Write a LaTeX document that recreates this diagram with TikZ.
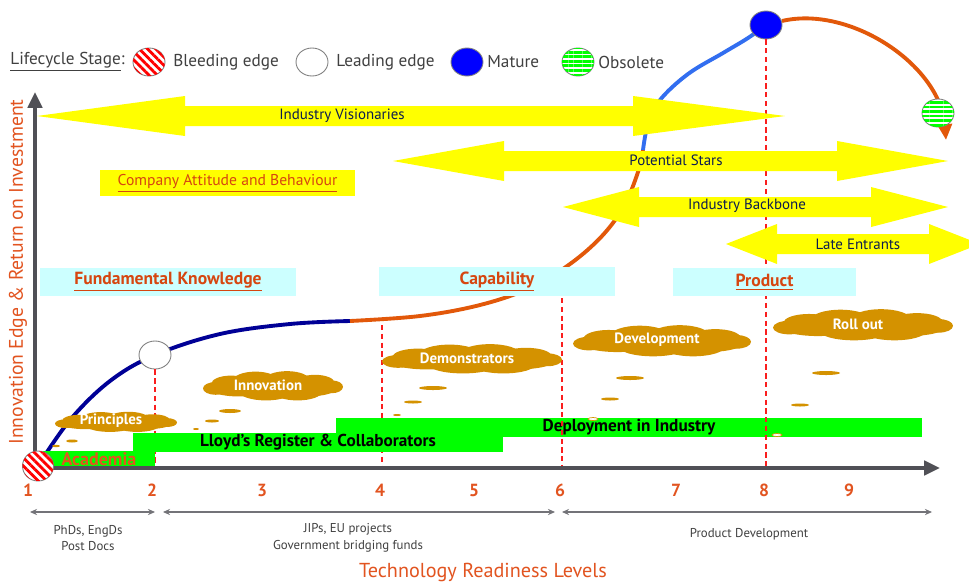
\documentclass[tikz,border=0pt]{standalone}
\usepackage{fontspec}
\setmainfont{PT Sans}
\usetikzlibrary{shapes.geometric,patterns.meta,arrows.meta}
\definecolor{trlorange}{RGB}{226,84,32}
\definecolor{boxorange}{RGB}{214,70,16}
\definecolor{curvenavy}{RGB}{0,0,150}
\definecolor{curveorange}{RGB}{226,88,10}
\definecolor{curveblue}{RGB}{50,110,240}
\definecolor{axisgray}{RGB}{80,80,86}
\definecolor{arrowyellow}{RGB}{255,255,0}
\definecolor{boxcyan}{RGB}{204,255,255}
\definecolor{bargreen}{RGB}{0,255,0}
\definecolor{cloudgold}{RGB}{212,146,0}
\definecolor{labelnavy}{RGB}{12,28,80}
\definecolor{textgray}{RGB}{64,64,64}
\definecolor{dashred}{RGB}{250,30,30}
\tikzset{
  stagecircle/.style={ellipse, draw=gray, line width=0.5pt, minimum width=0.64cm, minimum height=0.56cm, inner sep=0pt},
  bleeding/.style={stagecircle, fill=white, postaction={pattern={Lines[angle=-45,distance=3.3pt,line width=1.6pt]}, pattern color=red}},
  leading/.style={stagecircle, fill=white},
  mature/.style={stagecircle, fill=blue},
  obsolete/.style={stagecircle, fill=white, postaction={pattern={Lines[angle=0,distance=2.6pt,line width=1.6pt]}, pattern color=green}},
  legendtext/.style={anchor=west, inner sep=0pt, text=textgray, font=\fontsize{9.8}{11}\selectfont},
  curve/.style={line width=2.2pt},
  trldash/.style={dashred, line width=0.9pt, dash pattern=on 3pt off 2pt},
  arrowlabel/.style={inner sep=0pt, text=labelnavy, font=\fontsize{8.5}{10}\selectfont},
  cyanbox/.style={fill=boxcyan, minimum height=0.57cm, inner sep=0pt, text=boxorange, font=\bfseries\fontsize{10}{12}\selectfont},
  greenbar/.style={fill=bargreen, inner sep=0pt, font=\bfseries\fontsize{9.8}{11}\selectfont},
  cloudlabel/.style={inner sep=0pt, text=white, font=\bfseries\fontsize{8.5}{10}\selectfont},
  ticklabel/.style={text=trlorange, font=\bfseries\fontsize{10}{12}\selectfont},
  smalltext/.style={text=textgray, align=center, font=\fontsize{7.3}{9.5}\selectfont},
  spanarrow/.style={axisgray!80, line width=0.8pt, {Stealth[length=4pt,width=3.5pt]}-{Stealth[length=4pt,width=3.5pt]}}
}
% double headed yellow arrow: left tip, left base, right base, right tip, y
\newcommand{\yellowarrow}[5]{%
  \fill[arrowyellow] (#1,#5) -- (#2,#5-20) -- (#2,#5-10) -- (#3,#5-10) -- (#3,#5-20)
    -- (#4,#5) -- (#3,#5+20) -- (#3,#5+10) -- (#2,#5+10) -- (#2,#5+20) -- cycle;}
% gold cloud: name, x, y, half width, half height, text
\newcommand{\goldcloud}[6]{%
  \begin{scope}[shift={(#2,#3)}, xscale=#4, yscale=#5]
    \foreach \px/\py/\rx/\ry in {0/0/.7/.65, -.5/.1/.42/.55, .5/.1/.42/.55, -.25/-.3/.33/.6,
      .2/-.33/.33/.6, .6/-.2/.28/.5, -.6/-.15/.28/.5, -.1/.35/.38/.55, .35/.35/.35/.55,
      -.82/.15/.18/.4, .84/.05/.16/.4}
      \fill[cloudgold] (\px,\py) ellipse [x radius=\rx, y radius=\ry];
  \end{scope}
  \node[cloudlabel] (#1) at (#2-5,#3-1) {#6};}

\begin{document}
\begin{tikzpicture}[x=0.02cm,y=-0.02cm]
\useasboundingbox (0,0) rectangle (969,582);
\fill[white] (0,0) rectangle (969,582);

% lifecycle curve
\draw[curve, curvenavy] plot[smooth, tension=0.6] coordinates {(38,466) (70,420) (110,381) (155,355) (220,334) (290,324) (350,321)};
\draw[curve, curveorange] plot[smooth, tension=0.6] coordinates {(350,321) (420,316) (480,305) (530,288) (570,264) (602,236) (624,206) (638,172) (643,150)};
\draw[curve, curveblue] plot[smooth, tension=0.6] coordinates {(643,150) (648,124) (660,100) (688,74) (723,53) (748,38) (766,25)};
\draw[curve, curveorange, -{Triangle[length=9pt,width=8pt]}] (782,21) .. controls (850,5) and (940,65) .. (946,140);

% stage circles on the curve
\node[leading] (leadpt) at (155,355) {};
\node[mature] (maturept) at (766,25) {};
\node[obsolete] (obsoletept) at (938,113) {};
\coordinate (origin) at (35,468);

% dashed levels behind the bars
\draw[trldash] (leadpt.south) -- (leadpt.south |- origin);
\draw[trldash] (382,325) -- (382,468);

% green bars
\node[greenbar, minimum width=11.72cm, minimum height=0.38cm] (deploy) at (629,427) {Deployment in Industry};
\node[greenbar, minimum width=7.4cm, minimum height=0.38cm] (lloyds) at (318,442.5) {Lloyd’s Register \& Collaborators};
\node[greenbar, minimum width=2.24cm, minimum height=0.34cm, text=trlorange, font=\bfseries\fontsize{10.3}{11}\selectfont] (academia) at (99,459.5) {Academia};

% dashed levels over the bars
\draw[trldash] (562,298) -- (562,468);
\draw[trldash] (maturept.south) -- (maturept.south |- origin);

% yellow arrows
\yellowarrow{37}{185}{633}{785}{116}
\node[arrowlabel] (visionaries) at (342,116) {Industry Visionaries};
\yellowarrow{393}{504}{837}{948}{161}
\node[arrowlabel] (stars) at (676,160) {Potential Stars};
\yellowarrow{563}{639}{871}{948}{207}
\node[arrowlabel] (backbone) at (747,206) {Industry Backbone};
\yellowarrow{726}{777}{929}{980}{244}
\node[arrowlabel] (late) at (858,244) {Late Entrants};
\node[fill=arrowyellow, minimum width=5.1cm, minimum height=0.52cm, inner sep=0pt, text=boxorange, font=\fontsize{8.9}{10}\selectfont] (attitude) at (227.5,183) {\underline{Company Attitude and Behaviour}};

% cyan stage boxes
\node[cyanbox, minimum width=5.12cm] (fundamental) at (168,282) {\underline{Fundamental Knowledge}};
\node[cyanbox, minimum width=4.72cm] (capability) at (497,281.5) {\underline{Capability}};
\node[cyanbox, minimum width=3.66cm] (product) at (764.5,282) {\underline{Product}};

% clouds and their trails
\goldcloud{principles}{116}{422}{61}{11}{Principles}
\goldcloud{innovation}{273}{386}{70}{16}{Innovation}
\goldcloud{demonstrators}{472}{359}{90}{16}{Demonstrators}
\goldcloud{development}{662}{341}{89}{17}{Development}
\goldcloud{rollout}{863}{325}{90}{17}{Roll out}
\foreach \x/\y/\rx/\ry in {72/441/6/1.5, 56/446/4/1.2, 230/411/11/2, 212/421/7/1.5, 196/429/3/1,
  433/388/14/2, 413/402/9/1.5, 397/415/4/1, 630/378/14/2, 610/399/9/1.5, 826/373/14/2, 800/405/9/1.5}
  \fill[cloudgold] (\x,\y) ellipse [x radius=\rx, y radius=\ry];
\foreach \x/\y in {593/419, 777/435}
  \filldraw[fill=white, draw=cloudgold, line width=0.4pt] (\x,\y) ellipse [x radius=5, y radius=1.5];

% axes
\draw[axisgray, line width=2.5pt, {Triangle[length=9pt,width=8pt]}-{Triangle[length=9pt,width=8pt]}] (35,92) -- (origin) -- (940,468);
\node[bleeding, minimum width=0.62cm, minimum height=0.6cm] (bleedpt) at (38,466) {};
\node[rotate=90, text=trlorange, font=\fontsize{11.2}{13}\selectfont] (ylabel) at (18,272) {Innovation Edge \& Return on Investment};

% legend
\node[legendtext] (stagetitle) at (10,62) {\underline{Lifecycle Stage}:};
\node[bleeding] (legbleed) at (149,62) {};
\node[legendtext] (legbleedtext) at (173,62) {Bleeding edge};
\node[leading] (leglead) at (312,62) {};
\node[legendtext] (legleadtext) at (336,62) {Leading edge};
\node[mature] (legmature) at (467,62) {};
\node[legendtext] (legmaturetext) at (487,62) {Mature};
\node[obsolete] (legobsolete) at (578,62) {};
\node[legendtext] (legobsoletetext) at (598,62) {Obsolete};

% readiness levels
\foreach \n/\x in {1/28,2/152,3/262,4/380,5/474,6/560,7/676,8/764,9/849}
  \node[ticklabel] (tick\n) at (\x,490) {\n};
\draw[spanarrow] (30,512) -- (155,512);
\draw[spanarrow] (163,512) -- (555,512);
\draw[spanarrow] (562,512) -- (932,512);
\node[smalltext] (phds) at (88,538) {PhDs, EngDs\\Post Docs};
\node[smalltext] (jips) at (348,538) {JIPs, EU projects\\Government bridging funds};
\node[smalltext] (proddev) at (749,534) {Product Development};
\node[text=trlorange, font=\fontsize{11.5}{13}\selectfont] (trl) at (483,572) {Technology Readiness Levels};
\end{tikzpicture}
\end{document}
